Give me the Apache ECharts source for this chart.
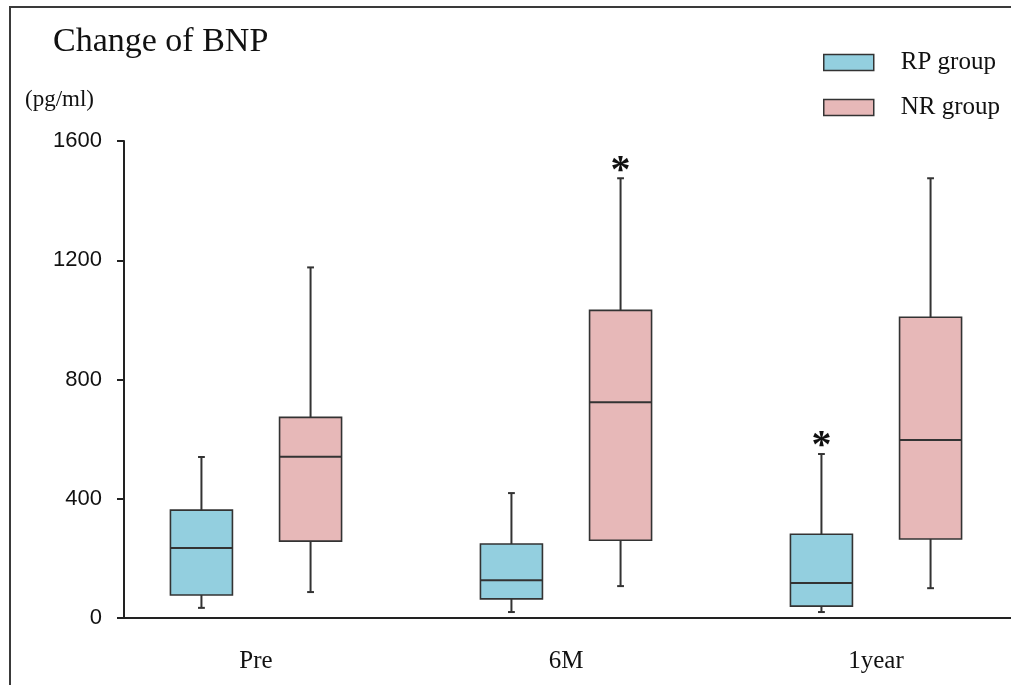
<!DOCTYPE html>
<html>
<head>
<meta charset="utf-8">
<script src="https://cdn.jsdelivr.net/npm/echarts@6/dist/echarts.min.js"></script>
<style>html,body{margin:0;padding:0;background:#fff;}#c{width:1011px;height:685px;}</style>
</head>
<body>
<div id="c"></div>
<script>
// ---- data ----
const categories = ['Pre', '6M', '1year'];
const yTicks = [0, 400, 800, 1200, 1600];
// RP group: [low whisker, Q1, median, Q3, high whisker]
const rpLow  = [34, 20, 20];
const rpQ1   = [77, 64, 40];
const rpMed  = [235, 127, 117];
const rpQ3   = [362, 248, 281];
const rpHigh = [540, 419, 550];
const rpStar = [0, 0, 1];
// NR group
const nrLow  = [87, 107, 100];
const nrQ1   = [258, 261, 265];
const nrMed  = [541, 724, 597];
const nrQ3   = [673, 1032, 1009];
const nrHigh = [1176, 1475, 1475];
const nrStar = [0, 1, 0];

const RP_COLOR = '#93CFDF';
const NR_COLOR = '#E7B8B8';
const EDGE = '#333333';

function rows(lo, q1, md, q3, hi, st) {
  return categories.map((c, i) => [i, lo[i], q1[i], md[i], q3[i], hi[i], st[i]]);
}

function makeRender(offsetFrac, widthFrac, fill) {
  return function (params, api) {
    const x = api.value(0);
    const band = api.size([1, 0])[0];
    const cx = api.coord([x, 0])[0] + offsetFrac * band;
    const w = widthFrac * band;
    const capW = 0.022 * band;
    const y = k => api.coord([x, api.value(k)])[1];
    const yLo = y(1), yQ1 = y(2), yMd = y(3), yQ3 = y(4), yHi = y(5);
    const line = { stroke: EDGE, lineWidth: 2 };
    const children = [
      { type: 'line', shape: { x1: cx, y1: yHi, x2: cx, y2: yQ3 }, style: line },
      { type: 'line', shape: { x1: cx, y1: yLo, x2: cx, y2: yQ1 }, style: line },
      { type: 'line', shape: { x1: cx - capW / 2, y1: yHi, x2: cx + capW / 2, y2: yHi }, style: line },
      { type: 'line', shape: { x1: cx - capW / 2, y1: yLo, x2: cx + capW / 2, y2: yLo }, style: line },
      { type: 'rect', shape: { x: cx - w / 2, y: yQ3, width: w, height: yQ1 - yQ3 },
        style: { fill: fill, stroke: EDGE, lineWidth: 1.6 } },
      { type: 'line', shape: { x1: cx - w / 2, y1: yMd, x2: cx + w / 2, y2: yMd }, style: line }
    ];
    if (api.value(6)) {
      children.push({ type: 'text', x: cx, y: yHi - 7,
        style: { text: '*', fill: '#111', font: 'bold 40px "Liberation Serif", serif',
                 align: 'center', verticalAlign: 'middle' } });
    }
    return { type: 'group', children: children };
  };
}

const chart = echarts.init(document.getElementById('c'), null, { renderer: 'canvas' });
chart.setOption({
  backgroundColor: '#fff',
  animation: false,
  title: {
    text: 'Change of BNP', left: 53, top: 25, padding: 0,
    textStyle: { fontFamily: '"Liberation Serif", serif', fontWeight: 'normal', fontSize: 34, color: '#111' }
  },
  graphic: [
    { type: 'rect', shape: { x: 10, y: 7, width: 1200, height: 900 },
      style: { fill: 'none', stroke: '#3a3a3a', lineWidth: 2 }, silent: true },
    { type: 'text', left: 25, top: 88,
      style: { text: '(pg/ml)', fill: '#111', font: '23px "Liberation Serif", serif' } }
  ],
  legend: {
    orient: 'vertical', left: 823, top: 50, padding: 0,
    itemWidth: 50, itemHeight: 16, itemGap: 20,
    textStyle: { fontFamily: '"Liberation Serif", serif', fontSize: 25, color: '#111',
                 lineHeight: 22, padding: [0, 0, 0, 22] },
    data: [
      { name: 'RP group', icon: 'rect', itemStyle: { color: RP_COLOR, borderColor: EDGE, borderWidth: 1.5 } },
      { name: 'NR group', icon: 'rect', itemStyle: { color: NR_COLOR, borderColor: EDGE, borderWidth: 1.5 } }
    ]
  },
  grid: [
    { left: 101, width: 930, top: 141, bottom: 67, outerBoundsMode: 'none', containLabel: false },
    { left: 124, right: 0, top: 141, bottom: 67, outerBoundsMode: 'none', containLabel: false }
  ],
  xAxis: [
    { type: 'category', gridIndex: 0, data: categories,
      axisLine: { show: false }, axisTick: { show: false },
      axisLabel: { margin: 31, fontFamily: '"Liberation Serif", serif', fontSize: 25, color: '#111' } },
    { type: 'value', gridIndex: 1, min: 0, max: 1,
      axisLine: { show: true, lineStyle: { color: '#222', width: 2 } },
      axisTick: { show: false }, axisLabel: { show: false }, splitLine: { show: false } }
  ],
  yAxis: [
    { type: 'value', gridIndex: 0, min: yTicks[0], max: yTicks[yTicks.length - 1], show: false, splitLine: { show: false } },
    { type: 'value', gridIndex: 1, min: yTicks[0], max: yTicks[yTicks.length - 1], interval: yTicks[1] - yTicks[0],
      axisLine: { show: true, lineStyle: { color: '#222', width: 2 } },
      axisTick: { show: true, length: 7, lineStyle: { color: '#222', width: 2 } },
      axisLabel: { margin: 22, fontFamily: '"Liberation Sans", Arial, sans-serif', fontSize: 22, color: '#111',
                   formatter: v => String(v) },
      splitLine: { show: false } }
  ],
  series: [
    { name: 'RP group', type: 'custom', xAxisIndex: 0, yAxisIndex: 0,
      itemStyle: { color: RP_COLOR, borderColor: EDGE },
      renderItem: makeRender(-0.176, 0.2, RP_COLOR),
      encode: { x: 0, y: [1, 2, 3, 4, 5] },
      data: rows(rpLow, rpQ1, rpMed, rpQ3, rpHigh, rpStar) },
    { name: 'NR group', type: 'custom', xAxisIndex: 0, yAxisIndex: 0,
      itemStyle: { color: NR_COLOR, borderColor: EDGE },
      renderItem: makeRender(0.176, 0.2, NR_COLOR),
      encode: { x: 0, y: [1, 2, 3, 4, 5] },
      data: rows(nrLow, nrQ1, nrMed, nrQ3, nrHigh, nrStar) }
  ]
});
</script>
</body>
</html>
